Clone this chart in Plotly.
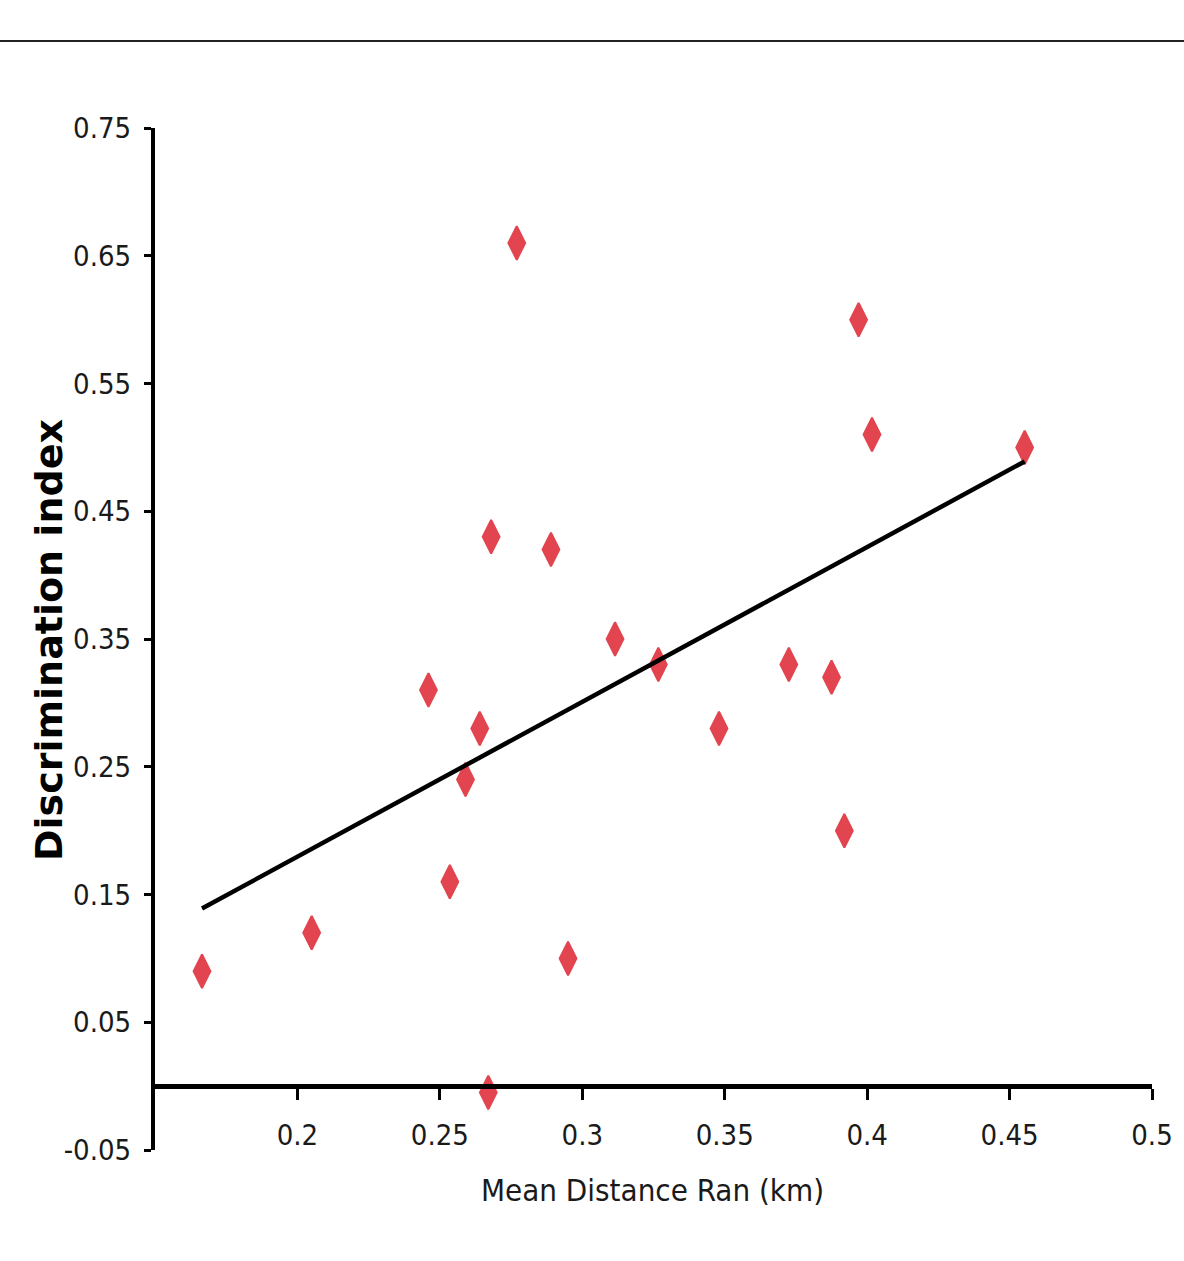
import plotly.graph_objects as go

# Data
mean_distance_km = [0.1665, 0.205, 0.246, 0.2535, 0.259, 0.264, 0.267, 0.268, 0.277, 0.289,
                    0.295, 0.3115, 0.3267, 0.348, 0.3725, 0.3875, 0.392, 0.397, 0.4017, 0.4553]
discrimination_index = [0.09, 0.12, 0.31, 0.16, 0.24, 0.28, -0.005, 0.43, 0.66, 0.42,
                        0.10, 0.35, 0.33, 0.28, 0.33, 0.32, 0.20, 0.60, 0.51, 0.50]

trend_x = [0.1665, 0.4553]
trend_y = [0.139, 0.489]

x_tickvals = [0.2, 0.25, 0.3, 0.35, 0.4, 0.45, 0.5]
x_ticktext = ["0.2", "0.25", "0.3", "0.35", "0.4", "0.45", "0.5"]
y_tickvals = [-0.05, 0.05, 0.15, 0.25, 0.35, 0.45, 0.55, 0.65, 0.75]
y_ticktext = ["-0.05", "0.05", "0.15", "0.25", "0.35", "0.45", "0.55", "0.65", "0.75"]

W, H = 1184, 1261
L, R, T, B = 155, 32, 128, 111
pw, ph = W - L - R, H - T - B

def px(xpix):
    return (xpix - L) / pw

def py(ypix):
    return (H - B - ypix) / ph

narrow = "DejaVu Sans Condensed, Liberation Sans Narrow, sans-serif"

fig = go.Figure()
fig.add_trace(go.Scatter(
    x=mean_distance_km, y=discrimination_index, mode="markers",
    marker=dict(symbol="diamond-tall", size=24, color="#e2454f",
                line=dict(width=2, color="#e2454f")),
    cliponaxis=False, showlegend=False))
fig.add_trace(go.Scatter(
    x=trend_x, y=trend_y, mode="lines",
    line=dict(color="black", width=4.5), showlegend=False))

ymin, ymax = -0.05, 0.75
fig.update_layout(
    width=W, height=H,
    margin=dict(l=L, r=R, t=T, b=B),
    paper_bgcolor="white", plot_bgcolor="white",
    xaxis=dict(range=[0.15, 0.5], tickvals=x_tickvals, ticktext=x_ticktext,
               showgrid=False, zeroline=False, showline=True, linecolor="black", linewidth=5,
               ticks="outside", ticklen=11, tickwidth=3, tickcolor="black",
               anchor="free", position=(0 - ymin) / (ymax - ymin),
               ticklabelstandoff=10,
               tickfont=dict(family=narrow, size=29, color="#1a1a1a")),
    yaxis=dict(range=[ymin, ymax], tickvals=y_tickvals, ticktext=y_ticktext,
               showgrid=False, zeroline=False, showline=True, linecolor="black", linewidth=4,
               ticks="outside", ticklen=7, tickwidth=3, tickcolor="black",
               ticklabelstandoff=7,
               tickfont=dict(family=narrow, size=29, color="#1a1a1a")),
    annotations=[
        dict(text="Discrimination index", xref="paper", yref="paper",
             x=px(49), y=py(640), textangle=-90, showarrow=False,
             xanchor="center", yanchor="middle",
             font=dict(family="DejaVu Sans, sans-serif", size=38, color="black", weight="bold")),
        dict(text="Mean Distance Ran (km)", xref="paper", yref="paper",
             x=px(652), y=py(1190), showarrow=False,
             xanchor="center", yanchor="middle",
             font=dict(family=narrow, size=31, color="#1a1a1a")),
    ],
    shapes=[dict(type="line", xref="paper", yref="paper",
                 x0=px(0), x1=px(W), y0=py(41), y1=py(41),
                 line=dict(color="#222222", width=2))],
)

fig.write_html("out.html")
